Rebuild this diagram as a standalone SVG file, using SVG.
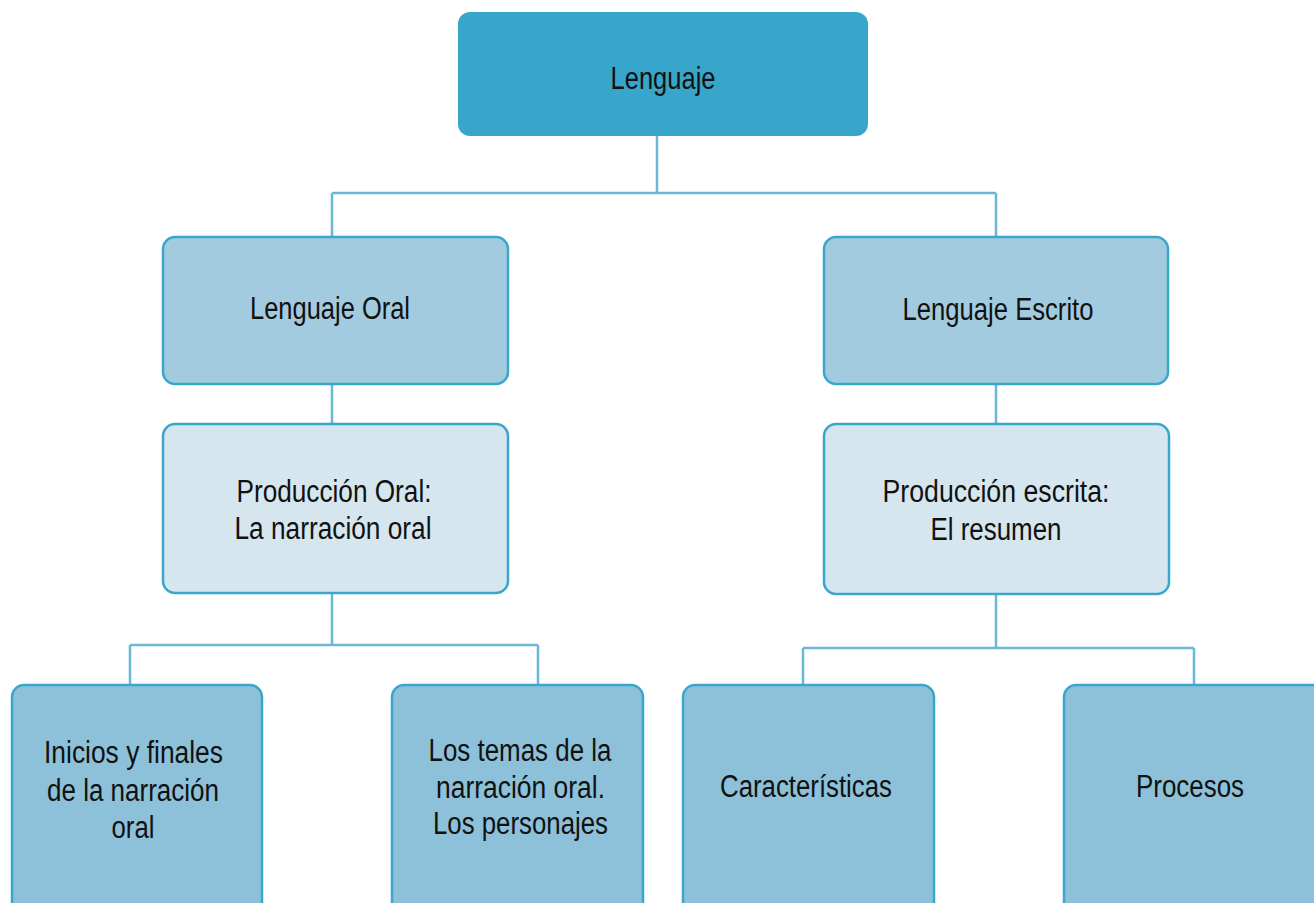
<svg xmlns="http://www.w3.org/2000/svg" width="1314" height="903" viewBox="0 0 1314 903">
<style>
text{font-family:"Liberation Sans",Arial,sans-serif;font-size:31px;fill:#111;text-anchor:middle}
.root{fill:#38a5cb}
.l1{fill:#a3cbe0;stroke:#3aa6cc;stroke-width:2.5}
.l2{fill:#d5e6ef;stroke:#3aa6cc;stroke-width:2.5}
.l3{fill:#8dc1da;stroke:#3aa6cc;stroke-width:2.5}
.conn{fill:none;stroke:#6ab8d6;stroke-width:2.5}
</style>
<rect width="1314" height="903" fill="#ffffff"/>
<g id="connectors">
<path class="conn" d="M657,136 V193 M332,193 H996 M332,193 V237 M996,193 V237"/>
<path class="conn" d="M332,384 V424 M996,384 V424"/>
<path class="conn" d="M332,593 V645 M130,645 H538 M130,645 V685 M538,645 V685"/>
<path class="conn" d="M996,594 V648 M803,648 H1194 M803,648 V685 M1194,648 V685"/>
</g>
<g id="n-lenguaje">
<rect class="root" x="458" y="12" width="410" height="124" rx="12"/>
<text x="663" y="89" textLength="105" lengthAdjust="spacingAndGlyphs">Lenguaje</text>
</g>
<g id="n-oral">
<rect class="l1" x="163" y="237" width="345" height="147" rx="12"/>
<text x="330" y="319" textLength="160" lengthAdjust="spacingAndGlyphs">Lenguaje Oral</text>
</g>
<g id="n-escrito">
<rect class="l1" x="824" y="237" width="344" height="147" rx="12"/>
<text x="998" y="320" textLength="191" lengthAdjust="spacingAndGlyphs">Lenguaje Escrito</text>
</g>
<g id="n-prod-oral">
<rect class="l2" x="163" y="424" width="345" height="169" rx="12"/>
<text x="334" y="502" textLength="195" lengthAdjust="spacingAndGlyphs">Producción Oral:</text>
<text x="333" y="539" textLength="197" lengthAdjust="spacingAndGlyphs">La narración oral</text>
</g>
<g id="n-prod-escrita">
<rect class="l2" x="824" y="424" width="345" height="170" rx="12"/>
<text x="996" y="502" textLength="227" lengthAdjust="spacingAndGlyphs">Producción escrita:</text>
<text x="996" y="540" textLength="131" lengthAdjust="spacingAndGlyphs">El resumen</text>
</g>
<g id="n-inicios">
<rect class="l3" x="12" y="685" width="250" height="235" rx="12"/>
<text x="133.5" y="763" textLength="179" lengthAdjust="spacingAndGlyphs">Inicios y finales</text>
<text x="133" y="801" textLength="172" lengthAdjust="spacingAndGlyphs">de la narración</text>
<text x="133" y="838" textLength="43" lengthAdjust="spacingAndGlyphs">oral</text>
</g>
<g id="n-temas">
<rect class="l3" x="392" y="685" width="251" height="235" rx="12"/>
<text x="520" y="761" textLength="183" lengthAdjust="spacingAndGlyphs">Los temas de la</text>
<text x="520.5" y="798" textLength="169" lengthAdjust="spacingAndGlyphs">narración oral.</text>
<text x="520.5" y="834" textLength="175" lengthAdjust="spacingAndGlyphs">Los personajes</text>
</g>
<g id="n-caracteristicas">
<rect class="l3" x="683" y="685" width="251" height="235" rx="12"/>
<text x="806" y="797" textLength="172" lengthAdjust="spacingAndGlyphs">Características</text>
</g>
<g id="n-procesos">
<rect class="l3" x="1064" y="685" width="262" height="235" rx="12"/>
<text x="1190" y="797" textLength="108" lengthAdjust="spacingAndGlyphs">Procesos</text>
</g>
</svg>
